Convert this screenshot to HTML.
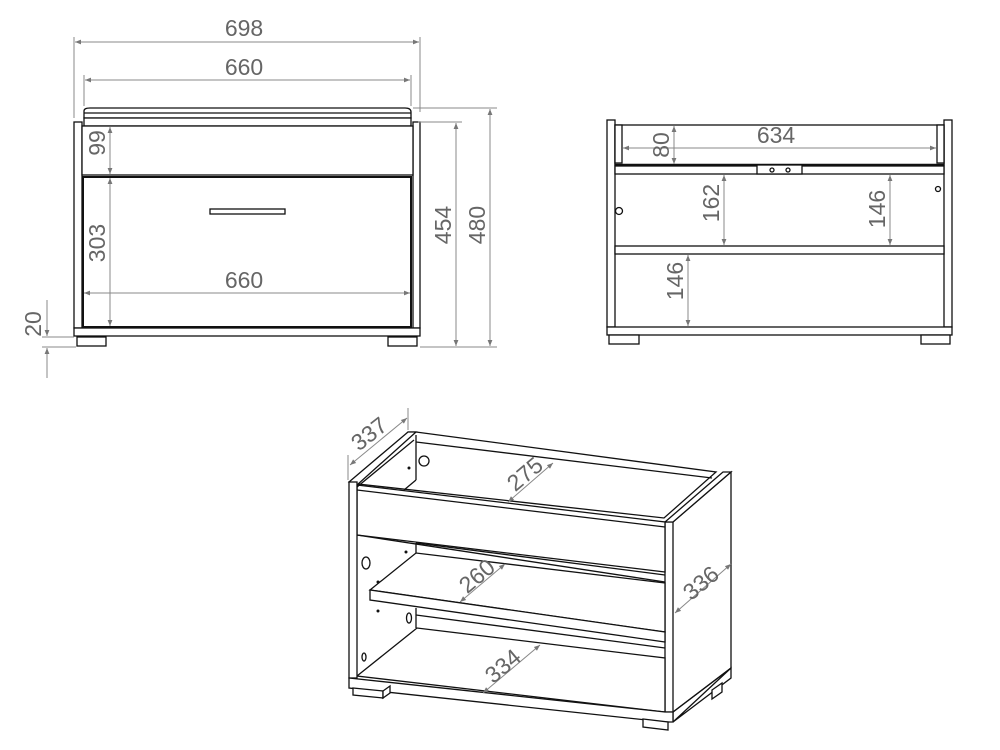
<!DOCTYPE html>
<html><head><meta charset="utf-8"><style>
html,body{margin:0;padding:0;background:#fff}
svg{display:block}
text{font-family:"Liberation Sans",sans-serif;font-size:23px;fill:#666}
</style></head><body>
<svg width="1000" height="750" viewBox="0 0 1000 750" xmlns="http://www.w3.org/2000/svg">
<defs>
<marker id="a" viewBox="0 0 10 10" refX="10" refY="5" markerWidth="10" markerHeight="6" orient="auto-start-reverse" markerUnits="userSpaceOnUse">
<path d="M0,1 L10,5 L0,9 Z" fill="#777"/></marker>
</defs>

<g stroke="#111" stroke-width="1.3" fill="#fff">
<!-- front view -->
<path d="M84,118 L84,111 Q84,108 90,108 L405,108 Q411,108 411,112 L411,118 Z"/>
<line x1="84" y1="113" x2="411" y2="113"/>
<rect x="84" y="118" width="327" height="8"/>
<rect x="74" y="122" width="8" height="206"/>
<rect x="413" y="122" width="7" height="206"/>
<rect x="82" y="126" width="331" height="49"/>
<rect x="83" y="177" width="328" height="150" stroke-width="2"/>
<rect x="210" y="209" width="75" height="5"/>
<rect x="74" y="328" width="346" height="8"/>
<rect x="77" y="337" width="29" height="9"/>
<rect x="388" y="337" width="29" height="9"/>
<!-- side view -->
<rect x="607" y="120" width="8" height="207"/>
<rect x="944" y="120" width="8" height="207"/>
<rect x="615" y="125" width="329" height="40"/>
<rect x="615" y="125" width="7" height="38"/>
<rect x="937" y="125" width="7" height="38"/>
<line x1="615" y1="165" x2="944" y2="165" stroke-width="2.5"/>
<rect x="615" y="166" width="329" height="8"/>
<rect x="757" y="165" width="45" height="9"/>
<circle cx="772" cy="170" r="2"/><circle cx="788" cy="170" r="2"/>
<rect x="615" y="246" width="329" height="8"/>
<rect x="607" y="327" width="345" height="8"/>
<rect x="609" y="335" width="30" height="9"/>
<rect x="921" y="335" width="29" height="9"/>
<circle cx="619" cy="211" r="3.5"/>
<circle cx="938" cy="189" r="2.5"/>
<!-- iso view -->
<polygon points="665,522 673,522 731,472 731,668 673,712 665,712"/>
<line x1="673" y1="522" x2="673" y2="722"/>
<polygon points="665,522 723,472 731,472 673,522"/>
<polygon points="408,432 416,432 716,472 664,518 358,484"/>
<line x1="416" y1="442" x2="712" y2="478"/>
<line x1="416" y1="435" x2="416" y2="480"/>
<line x1="416" y1="480" x2="404" y2="490"/>
<polygon points="357,485 665,522 665,572 357,535" />
<line x1="357" y1="490" x2="665" y2="527"/>
<line x1="357" y1="535" x2="665" y2="582"/>
<line x1="416" y1="543" x2="665" y2="575"/>
<polygon points="370,590 416,553 665,583 665,632"/>
<polygon points="370,590 665,632 665,642 370,600"/>
<line x1="416" y1="553" x2="416" y2="543"/>
<line x1="416" y1="615" x2="665" y2="648"/>
<line x1="416" y1="608" x2="416" y2="628"/>
<polygon points="357,676 417,628 665,658 665,712"/>
<polygon points="349,482 408,432 416,432 357,485"/>
<line x1="357" y1="487" x2="414" y2="440"/>
<rect x="349" y="482" width="8" height="196"/>
<polygon points="349,678 665,712 673,712 673,722 665,722 349,688"/>
<line x1="673" y1="712" x2="731" y2="668"/>
<polygon points="673,722 731,678 731,668"/>
<polygon points="353,688 383,691 383,698 353,695"/>
<polygon points="383,691 390,686 390,693 383,698"/>
<polygon points="643,719 668,722 668,730 643,727"/>
<polygon points="712,690 722,683 722,692 712,699"/>
<circle cx="424" cy="461" r="5"/>
<ellipse cx="366" cy="563" rx="4" ry="6"/>
<ellipse cx="409" cy="618" rx="2.5" ry="5"/>
<ellipse cx="364" cy="657" rx="2" ry="4"/>
</g>
<g fill="#111">
<circle cx="409" cy="468" r="1.5"/><circle cx="406" cy="552" r="1.5"/>
<circle cx="378" cy="582" r="1.5"/><circle cx="378" cy="611" r="1.5"/>
</g>

<g stroke="#888" stroke-width="1" fill="none">
<line x1="74" y1="37" x2="74" y2="118"/><line x1="420" y1="37" x2="420" y2="112"/>
<line x1="75" y1="42" x2="419" y2="42" marker-start="url(#a)" marker-end="url(#a)"/>
<line x1="84" y1="75" x2="84" y2="106"/><line x1="411" y1="75" x2="411" y2="106"/>
<line x1="85" y1="80" x2="410" y2="80" marker-start="url(#a)" marker-end="url(#a)"/>
<line x1="110" y1="127" x2="110" y2="174" marker-start="url(#a)" marker-end="url(#a)"/>
<line x1="110" y1="178" x2="110" y2="326" marker-start="url(#a)" marker-end="url(#a)"/>
<line x1="84" y1="293" x2="410" y2="293" marker-start="url(#a)" marker-end="url(#a)"/>
<line x1="418" y1="122" x2="462" y2="122"/><line x1="413" y1="108" x2="497" y2="108"/>
<line x1="420" y1="347" x2="497" y2="347"/>
<line x1="456" y1="123" x2="456" y2="346" marker-start="url(#a)" marker-end="url(#a)"/>
<line x1="490" y1="109" x2="490" y2="346" marker-start="url(#a)" marker-end="url(#a)"/>
<line x1="42" y1="337" x2="74" y2="337"/><line x1="42" y1="347" x2="76" y2="347"/>
<line x1="47" y1="300" x2="47" y2="336" marker-end="url(#a)"/>
<line x1="47" y1="378" x2="47" y2="348" marker-end="url(#a)"/>
<line x1="623" y1="148" x2="936" y2="148" marker-start="url(#a)" marker-end="url(#a)"/>
<line x1="674" y1="126" x2="674" y2="164" marker-start="url(#a)" marker-end="url(#a)"/>
<line x1="724" y1="175" x2="724" y2="245" marker-start="url(#a)" marker-end="url(#a)"/>
<line x1="890" y1="175" x2="890" y2="245" marker-start="url(#a)" marker-end="url(#a)"/>
<line x1="688" y1="255" x2="688" y2="326" marker-start="url(#a)" marker-end="url(#a)"/>
<line x1="348" y1="480" x2="348" y2="455"/><line x1="408" y1="430" x2="408" y2="408"/>
<line x1="350" y1="465" x2="407" y2="418" marker-start="url(#a)" marker-end="url(#a)"/>
<line x1="508" y1="502" x2="553" y2="463" marker-start="url(#a)" marker-end="url(#a)"/>
<line x1="460" y1="602" x2="505" y2="564" marker-start="url(#a)" marker-end="url(#a)"/>
<line x1="483" y1="693" x2="540" y2="645" marker-start="url(#a)" marker-end="url(#a)"/>
<line x1="675" y1="613" x2="731" y2="564" marker-start="url(#a)" marker-end="url(#a)"/>
</g>

<g>
<text x="244" y="36" text-anchor="middle">698</text>
<text x="244" y="75" text-anchor="middle">660</text>
<text x="244" y="288" text-anchor="middle">660</text>
<text transform="translate(105,143) rotate(-90)" text-anchor="middle">99</text>
<text transform="translate(105,243) rotate(-90)" text-anchor="middle">303</text>
<text transform="translate(451,225) rotate(-90)" text-anchor="middle">454</text>
<text transform="translate(485,225) rotate(-90)" text-anchor="middle">480</text>
<text transform="translate(41,324) rotate(-90)" text-anchor="middle">20</text>
<text x="776" y="143" text-anchor="middle">634</text>
<text transform="translate(669,145) rotate(-90)" text-anchor="middle">80</text>
<text transform="translate(719,203) rotate(-90)" text-anchor="middle">162</text>
<text transform="translate(885,209) rotate(-90)" text-anchor="middle">146</text>
<text transform="translate(683,281) rotate(-90)" text-anchor="middle">146</text>
<text transform="translate(374,440) rotate(-38)" text-anchor="middle">337</text>
<text transform="translate(530,480) rotate(-40)" text-anchor="middle">275</text>
<text transform="translate(482,582) rotate(-40)" text-anchor="middle">260</text>
<text transform="translate(508,672) rotate(-40)" text-anchor="middle">334</text>
<text transform="translate(706,589) rotate(-40)" text-anchor="middle">336</text>
</g>
</svg>
</body></html>
